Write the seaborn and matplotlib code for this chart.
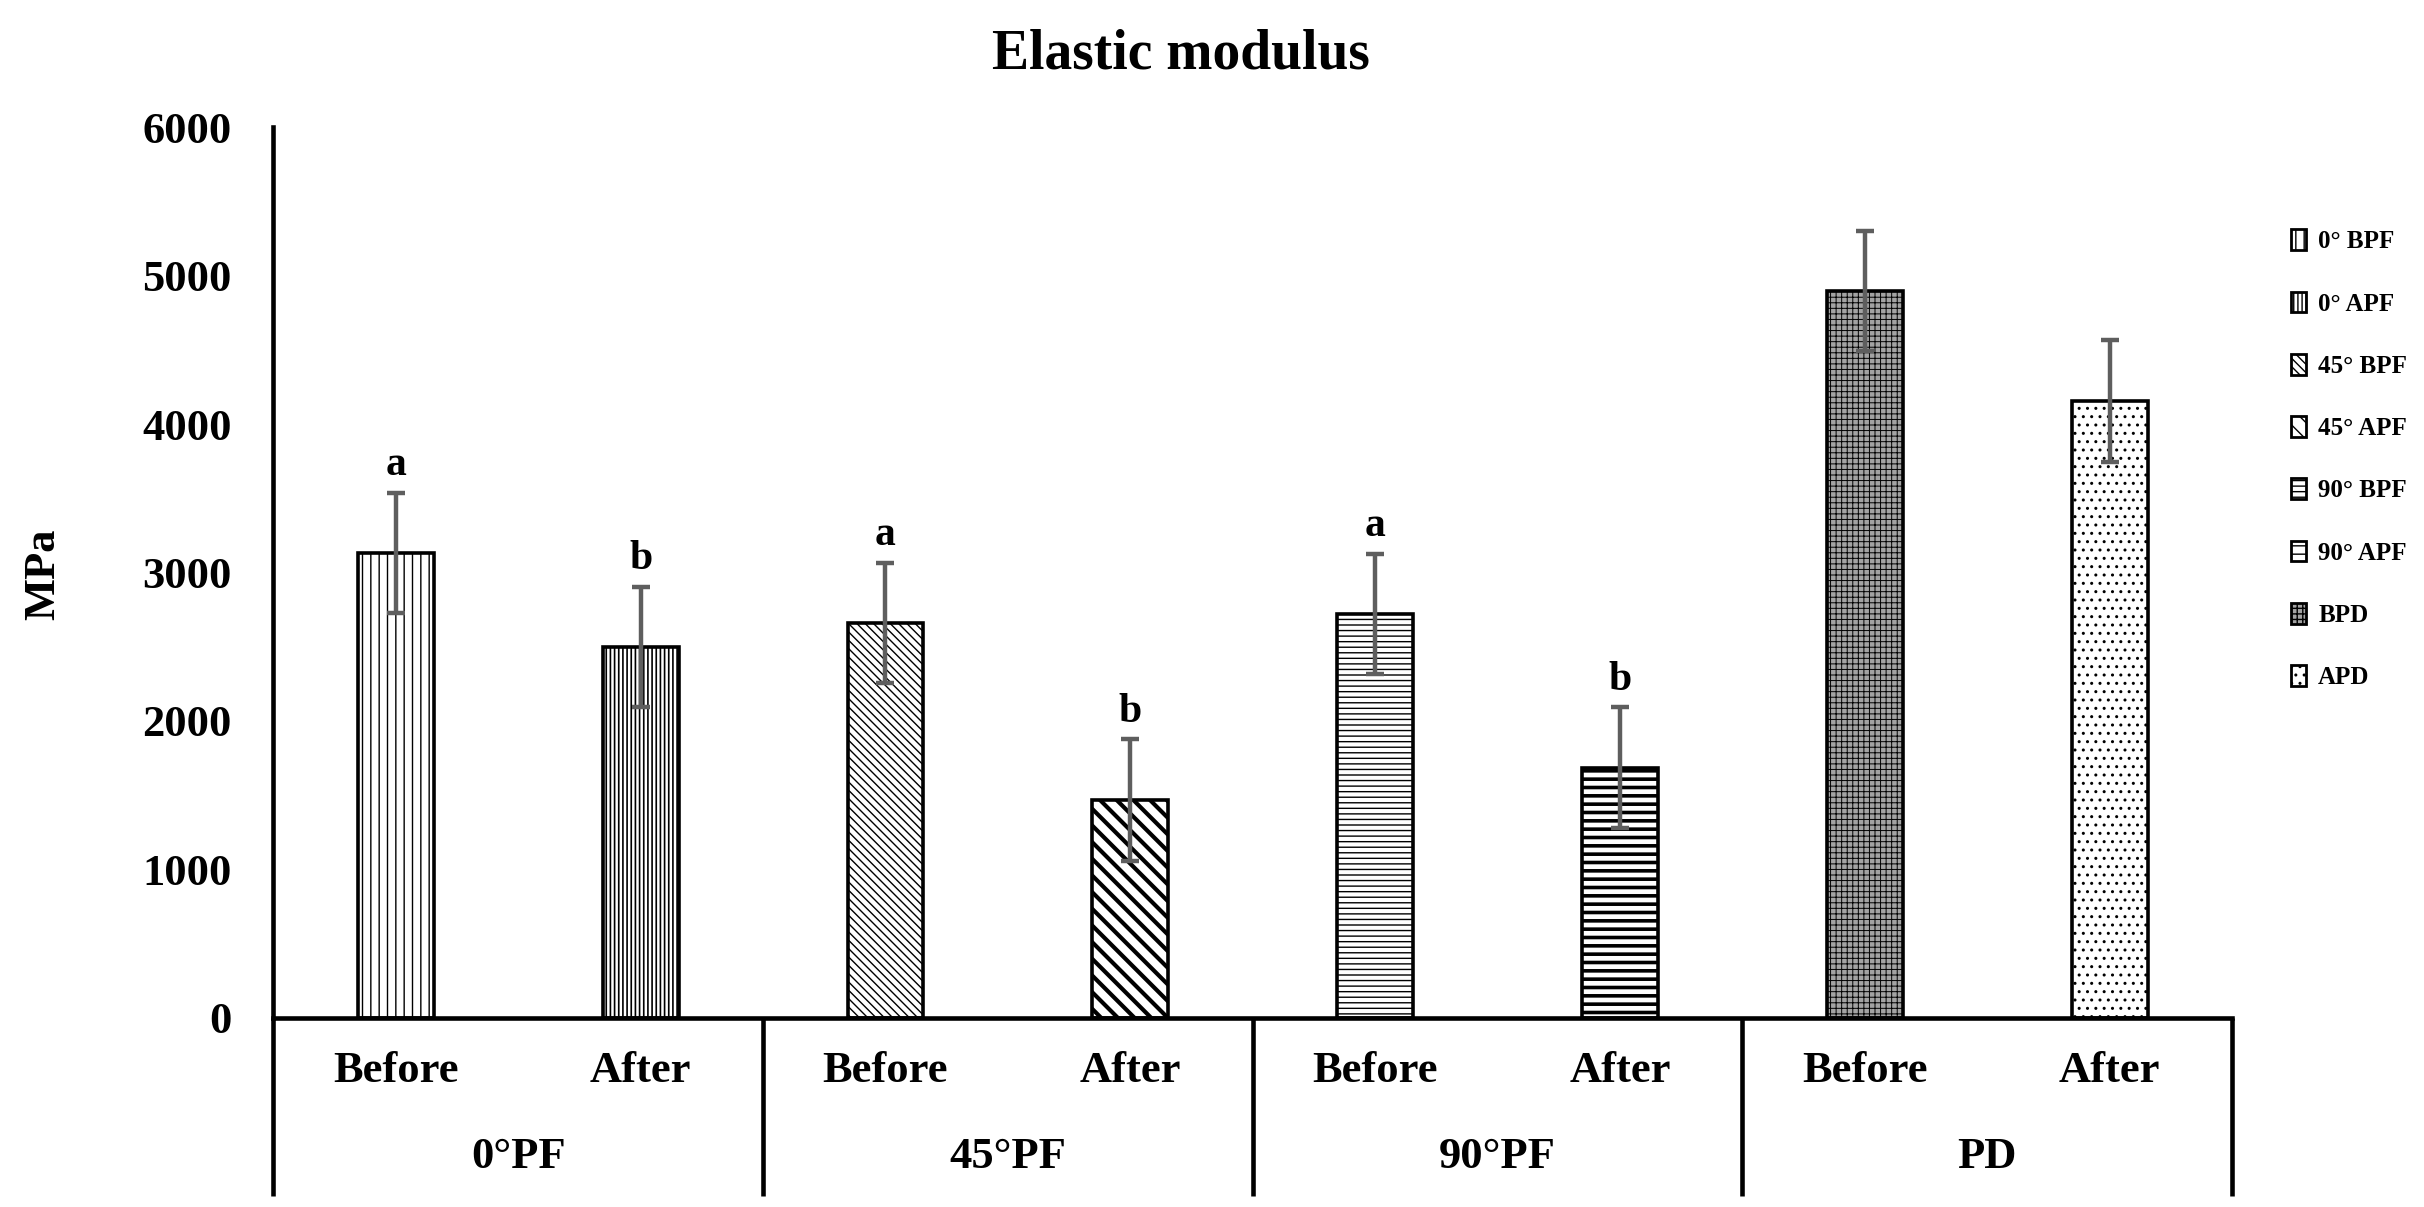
import matplotlib
matplotlib.use("Agg")
import matplotlib.pyplot as plt
import matplotlib.transforms as mtransforms
from matplotlib.patches import Patch
import seaborn as sns
import pandas as pd

# ---- data ----
groups = ["0°PF", "45°PF", "90°PF", "PD"]
stages = ["Before", "After"]
series = ["0° BPF", "0° APF", "45° BPF", "45° APF", "90° BPF", "90° APF", "BPD", "APD"]
values = [3130, 2500, 2660, 1465, 2720, 1685, 4895, 4155]
errors = [405, 405, 405, 410, 405, 405, 405, 410]
letters = ["a", "b", "a", "b", "a", "b", "", ""]

hatches = ["||", "||||", "\\\\\\\\", "\\\\", "---", "--", "+++", ".."]
hatch_lw = [1.0, 1.2, 1.0, 3.0, 1.0, 2.6, 0.7, 1.0]
faces = ["white", "white", "white", "white", "white", "white", "#a3a3a3", "white"]

df = pd.DataFrame({"series": series, "value": values})

sns.set_style("white")
plt.rcParams["font.family"] = ["Liberation Serif", "DejaVu Serif"]
plt.rcParams["font.weight"] = "bold"
for k in ["text.color", "axes.labelcolor", "xtick.color", "ytick.color"]:
    plt.rcParams[k] = "black"

fig = plt.figure(figsize=(24.24, 12.07), dpi=100)
ax = fig.add_axes([0.1128, 0.157, 0.808, 0.7375])

sns.barplot(data=df, x="series", y="value", order=series, width=0.31,
            errorbar=None, color="white", edgecolor="black", linewidth=2.6, ax=ax)

for i, p in enumerate(ax.patches):
    p.set_hatch(hatches[i])
    p.set_facecolor(faces[i])
    if hasattr(p, "set_hatch_linewidth"):
        p.set_hatch_linewidth(hatch_lw[i])

xs = list(range(len(series)))
ax.errorbar(xs, values, yerr=errors, fmt="none", ecolor="#5e5e5e",
            elinewidth=3.2, capsize=6.5, capthick=3.2, zorder=5)

for x, v, e, t in zip(xs, values, errors, letters):
    if t:
        ax.text(x, v + e + 120, t, ha="center", va="baseline",
                fontsize=30, fontweight="bold", color="black")

ax.set_xlim(-0.5, 7.5)
ax.set_ylim(0, 6000)
ax.set_yticks([0, 1000, 2000, 3000, 4000, 5000, 6000])
ax.set_yticklabels(["0", "1000", "2000", "3000", "4000", "5000", "6000"])
ax.tick_params(axis="y", length=0, pad=30, labelsize=32, labelcolor="black")
ax.set_xticks(xs)
ax.set_xticklabels(stages * 4)
ax.tick_params(axis="x", length=0, pad=24, labelsize=32, labelcolor="black")
for lab in ax.get_xticklabels() + ax.get_yticklabels():
    lab.set_fontweight("bold")
ax.set_xlabel("")
ax.set_ylabel("")

for s in ["top", "right"]:
    ax.spines[s].set_visible(False)
for s in ["left", "bottom"]:
    ax.spines[s].set_linewidth(3.3)
    ax.spines[s].set_color("black")

trans = mtransforms.blended_transform_factory(ax.transData, ax.transAxes)
for xb in [-0.5, 1.5, 3.5, 5.5, 7.5]:
    ax.plot([xb, xb], [0, -0.2], transform=trans, color="black",
            lw=3.3, clip_on=False, solid_capstyle="butt")
for gi, g in enumerate(groups):
    ax.text(2 * gi + 0.5, -0.157, g, transform=trans, ha="center", va="center",
            fontsize=32, fontweight="bold", color="black")

fig.text(0.487, 0.955, "Elastic modulus", ha="center", va="center",
         fontsize=40, fontweight="bold", color="black")
fig.text(0.018, 0.524, "MPa", ha="center", va="center", rotation=90,
         fontsize=32, fontweight="bold", color="black")

handles = []
for i in range(len(series)):
    h = Patch(facecolor=faces[i], edgecolor="black", hatch=hatches[i], linewidth=2.0)
    handles.append(h)
leg = fig.legend(handles, series, loc="upper left", bbox_to_anchor=(0.945, 0.810),
                 frameon=False, fontsize=18, handlelength=0.6, handleheight=0.9,
                 handletextpad=0.5, labelspacing=1.53, borderpad=0, borderaxespad=0)
for t in leg.get_texts():
    t.set_fontweight("bold")
    t.set_color("black")

fig.savefig("out.png", dpi=100)
